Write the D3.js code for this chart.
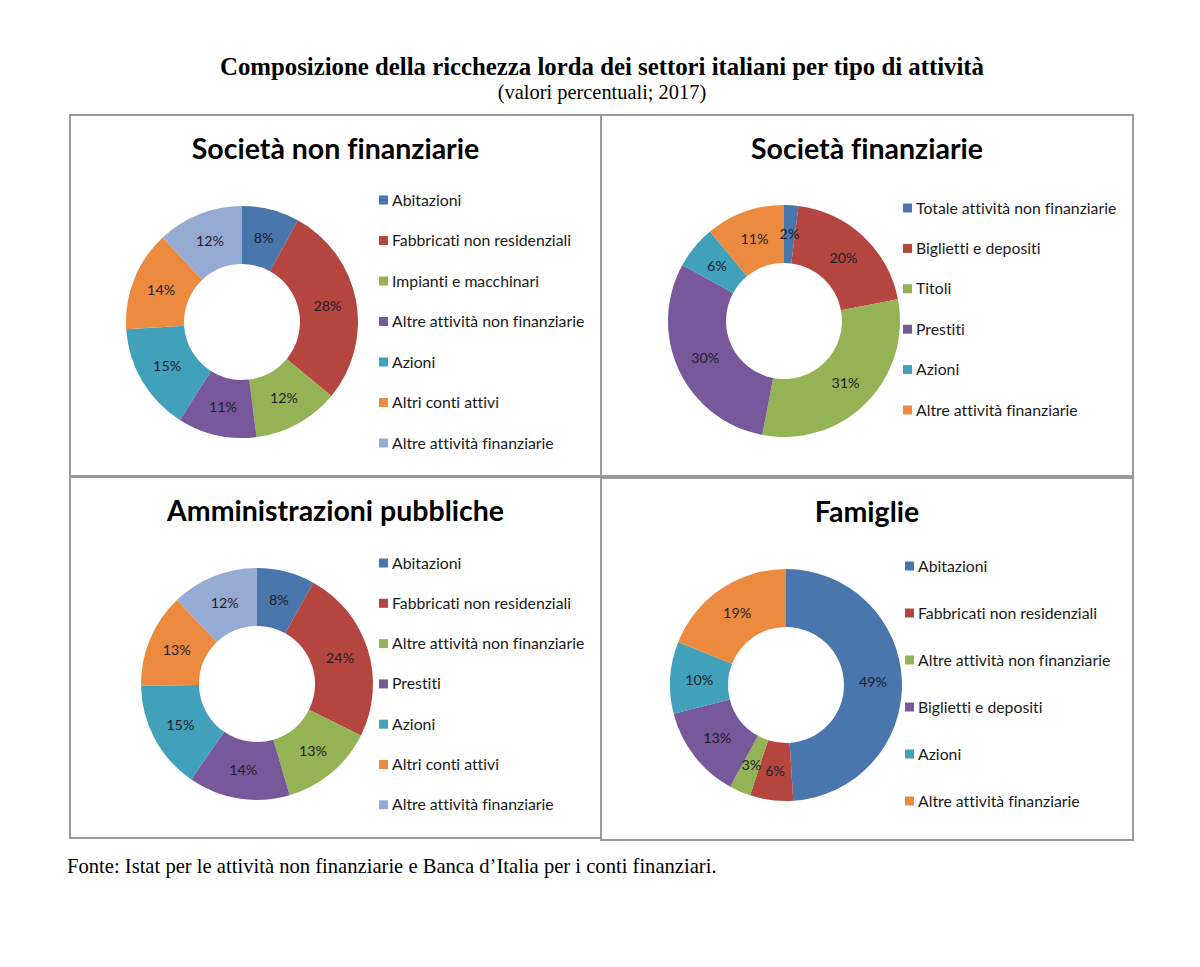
<!DOCTYPE html>
<html><head><meta charset="utf-8">
<script src="https://cdn.jsdelivr.net/npm/d3@7"></script>
<style>
html,body{margin:0;padding:0;background:#fff;}
text{font-variant-ligatures:none;}
</style></head>
<body>
<svg id="chart" width="1200" height="967"></svg>
<script>
// ---- data ----
const mainTitle = "Composizione della ricchezza lorda dei settori italiani per tipo di attività";
const subTitle = "(valori percentuali; 2017)";
const sourceNote = "Fonte: Istat per le attività non finanziarie e Banca d\u2019Italia per i conti finanziari.";

const panelTitles = ["Società non finanziarie", "Società finanziarie", "Amministrazioni pubbliche", "Famiglie"];

const snfCategories = ["Abitazioni", "Fabbricati non residenziali", "Impianti e macchinari", "Altre attività non finanziarie", "Azioni", "Altri conti attivi", "Altre attività finanziarie"];
const snfValues = [8, 28, 12, 11, 15, 14, 12];

const sfCategories = ["Totale attività non finanziarie", "Biglietti e depositi", "Titoli", "Prestiti", "Azioni", "Altre attività finanziarie"];
const sfValues = [2, 20, 31, 30, 6, 11];

const apCategories = ["Abitazioni", "Fabbricati non residenziali", "Altre attività non finanziarie", "Prestiti", "Azioni", "Altri conti attivi", "Altre attività finanziarie"];
const apValues = [8, 24, 13, 14, 15, 13, 12];

const famCategories = ["Abitazioni", "Fabbricati non residenziali", "Altre attività non finanziarie", "Biglietti e depositi", "Azioni", "Altre attività finanziarie"];
const famValues = [49, 6, 3, 13, 10, 19];

const palette = ["#4876ad", "#b5463f", "#93b354", "#77599b", "#42a1ba", "#ec8b3f", "#96abd4"];

// ---- layout ----
const svg = d3.select("#chart");
const boxes = [
  {x: 70, y: 115, w: 531, h: 361, cx: 242, cy: 322, lx: 379, ly: 200, step: 40.5},
  {x: 601, y: 115, w: 532, h: 361, cx: 784, cy: 321, lx: 903, ly: 208, step: 40.4},
  {x: 70, y: 477, w: 531, h: 361, cx: 257, cy: 684, lx: 379, ly: 563, step: 40.3},
  {x: 601, y: 478, w: 532, h: 362, cx: 786, cy: 685, lx: 905, ly: 566, step: 47}
];
const panels = [
  {cats: snfCategories, vals: snfValues},
  {cats: sfCategories, vals: sfValues},
  {cats: apCategories, vals: apValues},
  {cats: famCategories, vals: famValues}
];

const serif = "Liberation Serif, Times New Roman, serif";
const sans = "Lato, Open Sans, sans-serif";

svg.append("text").attr("x", 602).attr("y", 75).attr("text-anchor", "middle")
  .attr("font-family", serif).attr("font-weight", "bold")
  .attr("font-size", 24.8).attr("fill", "#000").text(mainTitle);
svg.append("text").attr("x", 602).attr("y", 99).attr("text-anchor", "middle")
  .attr("font-family", serif)
  .attr("font-size", 20.4).attr("fill", "#000").text(subTitle);
svg.append("text").attr("x", 67).attr("y", 873)
  .attr("font-family", serif)
  .attr("font-size", 20.6).attr("fill", "#000").text(sourceNote);

const outerR = 116, innerR = 58;
const arc = d3.arc().innerRadius(innerR).outerRadius(outerR);
const pie = d3.pie().sort(null).value(d => d);

panels.forEach((p, i) => {
  const b = boxes[i];
  const g = svg.append("g");
  g.append("rect").attr("x", b.x).attr("y", b.y).attr("width", b.w).attr("height", b.h)
    .attr("fill", "none").attr("stroke", "#9a9a9a").attr("stroke-width", 2);
  g.append("text").attr("x", b.x + b.w / 2).attr("y", b.y + 44).attr("text-anchor", "middle")
    .attr("font-family", sans).attr("font-weight", "bold")
    .attr("font-size", 28.5).attr("fill", "#000").text(panelTitles[i]);

  const color = d3.scaleOrdinal().domain(p.cats).range(palette);
  const dg = g.append("g").attr("transform", `translate(${b.cx},${b.cy})`);
  const arcs = pie(p.vals);
  dg.selectAll("path").data(arcs).join("path")
    .attr("d", arc).attr("fill", (d, j) => color(p.cats[j]));
  dg.selectAll("text").data(arcs).join("text")
    .attr("transform", d => `translate(${arc.centroid(d)})`)
    .attr("text-anchor", "middle").attr("dy", "0.35em")
    .attr("font-family", sans).attr("font-size", 14.3)
    .attr("fill", "#1e1e2a").text(d => d.data + "%");

  const y = d3.scalePoint().domain(p.cats).range([b.ly, b.ly + b.step * (p.cats.length - 1)]);
  const lg = g.append("g");
  const items = lg.selectAll("g").data(p.cats).join("g")
    .attr("transform", d => `translate(${b.lx},${y(d)})`);
  items.append("rect").attr("x", 0).attr("y", -4.5).attr("width", 9).attr("height", 9)
    .attr("fill", d => color(d));
  items.append("text").attr("x", 13).attr("dy", "0.35em")
    .attr("font-family", sans).attr("font-size", 15.8)
    .attr("fill", "#1a1a1a").text(d => d);
});
</script>
</body></html>
